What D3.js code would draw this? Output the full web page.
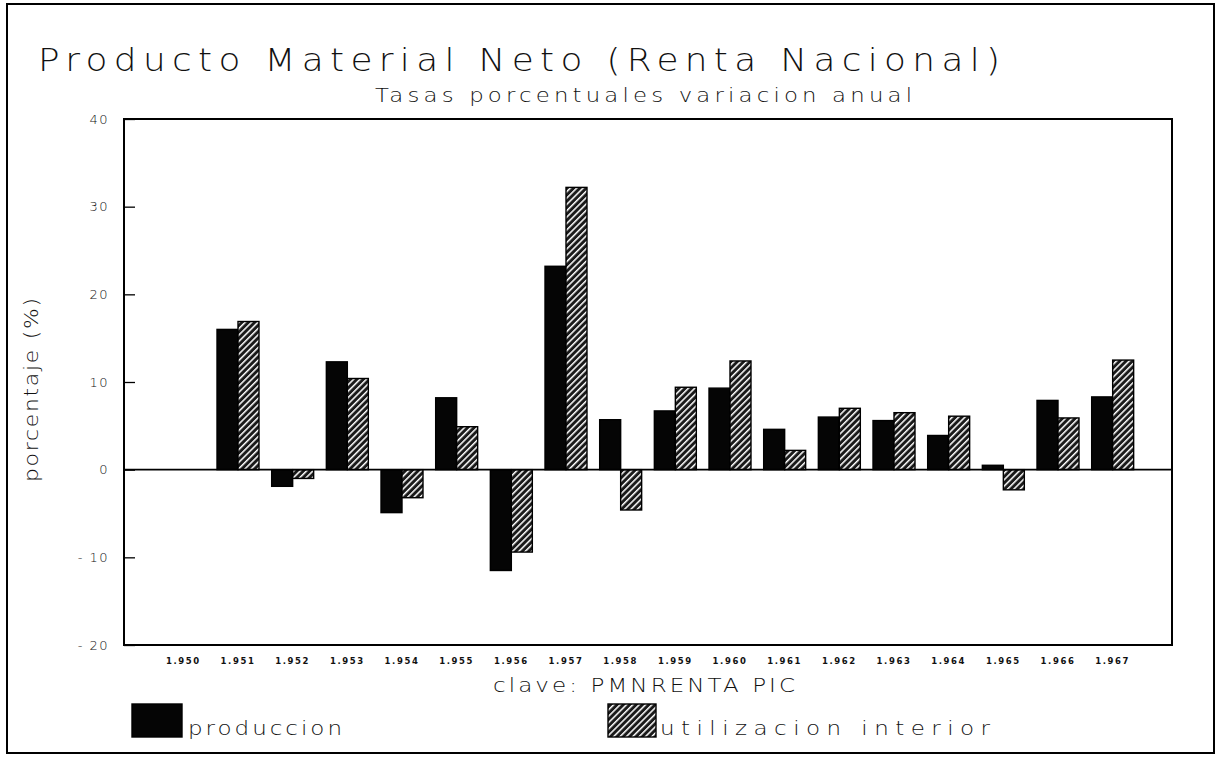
<!DOCTYPE html>
<html>
<head>
<meta charset="utf-8">
<script src="https://cdn.jsdelivr.net/npm/d3@7"></script>
<style>
  body { margin: 0; background: #fff; }
  text { font-family: "DejaVu Sans", sans-serif; fill: #111; }
</style>
</head>
<body>
<div id="chart"></div>
<script>
// years on the x axis (as printed, with the spanish thousands dot)
var years = ["1.950", "1.951", "1.952", "1.953", "1.954", "1.955", "1.956", "1.957", "1.958",
             "1.959", "1.960", "1.961", "1.962", "1.963", "1.964", "1.965", "1.966", "1.967"];
// annual % change (1950 has no value)
var produccion  = [null, 16.0, -1.9, 12.3, -4.9, 8.2, -11.5, 23.2, 5.7, 6.7, 9.3, 4.6, 6.0, 5.6, 3.9, 0.5, 7.9, 8.3];
var utilizacion = [null, 16.9, -1.0, 10.4, -3.2, 4.9, -9.4, 32.2, -4.6, 9.4, 12.4, 2.2, 7.0, 6.5, 6.1, -2.3, 5.9, 12.5];
var seriesNames = ["produccion", "utilizacion interior"];
var yTicks = [40, 30, 20, 10, 0, -10, -20];

const layout = {
    width: 1218,
    height: 764,
    box: { left: 124, right: 1172, top: 119, bottom: 645 }
};

var svg = d3.select("#chart").append("svg")
    .attr("width", layout.width)
    .attr("height", layout.height);

// hatch for the second series
var defs = svg.append("defs");
var pat = defs.append("pattern")
    .attr("id", "hatch")
    .attr("patternUnits", "userSpaceOnUse")
    .attr("width", 4.5).attr("height", 4.5)
    .attr("patternTransform", "rotate(45)");
pat.append("rect").attr("width", 4.5).attr("height", 4.5).attr("fill", "#1a1a1a");
pat.append("rect").attr("x", 0).attr("width", 1.5).attr("height", 4.5).attr("fill", "#fff");

// outer frame
svg.append("rect")
    .attr("x", 7).attr("y", 4)
    .attr("width", 1207).attr("height", 749)
    .attr("fill", "none").attr("stroke", "#000").attr("stroke-width", 2);

var b = layout.box;

var xScale = d3.scaleBand()
    .domain(years)
    .range([b.left + 32, b.right - 32])
    .paddingInner(0.232)
    .paddingOuter(0.116);
var xInner = d3.scaleBand()
    .domain(seriesNames)
    .range([0, xScale.bandwidth()]);
var yScale = d3.scaleLinear().domain([-20, 40]).range([b.bottom, b.top]);

// plot box
svg.append("rect")
    .attr("x", b.left).attr("y", b.top)
    .attr("width", b.right - b.left).attr("height", b.bottom - b.top)
    .attr("fill", "none").attr("stroke", "#000").attr("stroke-width", 2);

// y axis: inner ticks, labels outside
var yAxis = d3.axisLeft(yScale).tickValues(yTicks).tickSize(-11).tickPadding(15)
    .tickFormat(function(d) { return d < 0 ? "- " + Math.abs(d) : d; });
svg.append("g")
    .attr("transform", `translate(${b.left},0)`)
    .call(yAxis)
    .call(function(g) {
        g.select(".domain").remove();
        g.selectAll(".tick line").attr("stroke", "#000").attr("stroke-width", 1.3);
        g.selectAll(".tick text")
            .attr("font-size", 13).attr("letter-spacing", 1.5).attr("font-weight", 300)
            .attr("font-family", "DejaVu Sans").attr("fill", "#111");
    });

// bars
var groups = [produccion, utilizacion];
groups.forEach(function(vals, s) {
    svg.append("g").selectAll("rect")
        .data(years.map(function(y, i) { return { year: y, v: vals[i] }; })
                   .filter(function(d) { return d.v !== null; }))
        .join("rect")
        .attr("x", function(d) { return xScale(d.year) + xInner(seriesNames[s]); })
        .attr("width", xInner.bandwidth())
        .attr("y", function(d) { return yScale(Math.max(0, d.v)); })
        .attr("height", function(d) { return Math.abs(yScale(d.v) - yScale(0)); })
        .attr("fill", s === 0 ? "#050505" : "url(#hatch)")
        .attr("stroke", "#000").attr("stroke-width", 1.4);
});

// zero line
svg.append("line")
    .attr("x1", b.left).attr("x2", b.right)
    .attr("y1", yScale(0)).attr("y2", yScale(0))
    .attr("stroke", "#000").attr("stroke-width", 1.6);

// x axis labels
var xAxis = d3.axisBottom(xScale).tickSize(0).tickPadding(13);
svg.append("g")
    .attr("transform", `translate(0,${b.bottom})`)
    .call(xAxis)
    .call(function(g) {
        g.select(".domain").remove();
        g.selectAll(".tick text")
            .attr("font-size", 8.5).attr("letter-spacing", 1.6).attr("font-weight", "bold")
            .attr("font-family", "DejaVu Sans").attr("fill", "#111");
    });

// plotter-like wide lettering: stretched horizontally, fitted to a width
function wideText(x, y, size, len, sx, str, rot) {
    var t = `translate(${x},${y})` + (rot ? ` rotate(${rot})` : "") + ` scale(${sx},1)`;
    return svg.append("text")
        .attr("transform", t)
        .attr("font-size", size).attr("font-weight", 200)
        .attr("textLength", len / sx).attr("lengthAdjust", "spacing")
        .text(str);
}

wideText(38, 71, 32, 962, 1.12, "Producto Material Neto (Renta Nacional)");
wideText(375, 102, 19, 537, 1.2, "Tasas porcentuales variacion anual");
wideText(38, 482, 19, 184, 1.15, "porcentaje (%)", -90);
wideText(493, 692, 20, 302, 1.15, "clave: PMNRENTA PIC");

// legend
var legend = [
    { name: seriesNames[0], fill: "#050505", x: 132, w: 50, tx: 188, tl: 154 },
    { name: seriesNames[1], fill: "url(#hatch)", x: 608, w: 48, tx: 660, tl: 330 }
];
legend.forEach(function(l) {
    svg.append("rect")
        .attr("x", l.x).attr("y", 704)
        .attr("width", l.w).attr("height", 33)
        .attr("fill", l.fill).attr("stroke", "#000").attr("stroke-width", 1.4);
    wideText(l.tx, 735, 20, l.tl, 1.15, l.name);
});
</script>
</body>
</html>
